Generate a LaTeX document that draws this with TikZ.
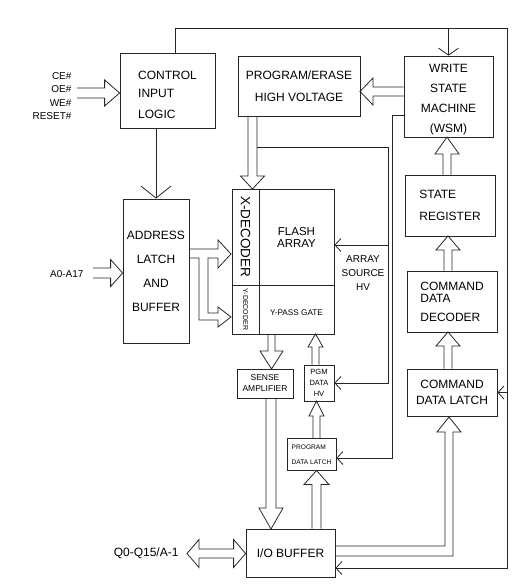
\documentclass[tikz,border=0pt]{standalone}
\usepackage{fontspec}
\setmainfont{Liberation Sans}
\usetikzlibrary{arrows.meta,calc}

\tikzset{
  blk/.style={draw=black!85, line width=0.8pt, inner sep=0pt, align=center},
  wire/.style={draw=black!85, line width=0.8pt},
  barb/.style={-{Straight Barb[length=6pt,width=13pt]}},
}

% hollow block arrow: half shaft, half head, head length, start, tip
\newcommand{\barrow}[5]{%
  \coordinate (bas) at (#4);
  \coordinate (bat) at (#5);
  \coordinate (bah) at ($(bat)!#3pt!(bas)$);
  \draw[wire] ($(bas)!#1pt!90:(bat)$) -- ($(bah)!#1pt!90:(bat)$) -- ($(bah)!#2pt!90:(bat)$) -- (bat)
    -- ($(bah)!#2pt!-90:(bat)$) -- ($(bah)!#1pt!-90:(bat)$) -- ($(bas)!#1pt!-90:(bat)$);
}
% same, with a head at both ends
\newcommand{\bbarrow}[5]{%
  \coordinate (bas) at (#4);
  \coordinate (bat) at (#5);
  \coordinate (bah) at ($(bat)!#3pt!(bas)$);
  \coordinate (bao) at ($(bas)!#3pt!(bat)$);
  \draw[wire] ($(bao)!#1pt!90:(bat)$) -- ($(bah)!#1pt!90:(bat)$) -- ($(bah)!#2pt!90:(bat)$) -- (bat)
    -- ($(bah)!#2pt!-90:(bat)$) -- ($(bah)!#1pt!-90:(bat)$) -- ($(bao)!#1pt!-90:(bat)$)
    -- ($(bao)!#2pt!-90:(bat)$) -- (bas) -- ($(bao)!#2pt!90:(bat)$) -- cycle;
}

\begin{document}
\begin{tikzpicture}[x=1pt, y=-1pt]
  \useasboundingbox (0,0) rectangle (526,588);

  % Blocks
  \node[blk, minimum width=95, minimum height=75] (ctrl) at (167.5,90.5) {};
  \node[align=left, font=\fontsize{12}{18}\selectfont] (ctrlt) at ([yshift=-4pt]ctrl.center) {CONTROL\\INPUT\\[3pt]LOGIC};
  \node[blk, minimum width=122, minimum height=60, font=\fontsize{12}{22}\selectfont] (pehv) at (299,86) {PROGRAM/ERASE\\HIGH VOLTAGE};
  \node[blk, minimum width=89, minimum height=81] (wsm) at (448.5,96.5) {};
  \node[align=center, font=\fontsize{12}{20}\selectfont] (wsmt) at ([yshift=-3.5pt]wsm.center) {WRITE\\STATE\\MACHINE\\(WSM)};
  \node[blk, minimum width=90, minimum height=61, align=left, font=\fontsize{12}{22}\selectfont] (strg) at (450,205.5) {STATE\\REGISTER};
  \node[blk, minimum width=90, minimum height=61, align=left, font=\fontsize{12}{12}\selectfont] (cdd) at (452,301.5) {COMMAND\\DATA\\[7pt]DECODER};
  \node[blk, minimum width=90, minimum height=47, font=\fontsize{12}{16}\selectfont] (cdl) at (452,392.5) {COMMAND\\DATA LATCH};
  \node[blk, minimum width=66, minimum height=144, font=\fontsize{12}{24}\selectfont] (addr) at (156,271) {ADDRESS\\LATCH\\AND\\BUFFER};
  \node[blk, minimum width=27, minimum height=96] (xdec) at (245.5,237) {};
  \node[blk, minimum width=27, minimum height=49] (ydec) at (245.5,309.5) {};
  \node[blk, minimum width=75, minimum height=96, font=\fontsize{11.5}{12}\selectfont] (flash) at (296.5,237) {FLASH\\ARRAY};
  \node[blk, minimum width=75, minimum height=49] (ypass) at (296.5,309.5) {};
  \node[font=\fontsize{8.2}{10}\selectfont] (ypt) at ([yshift=-3pt]ypass.center) {Y-PASS GATE};
  \node[blk, minimum width=56, minimum height=29, font=\fontsize{8.5}{11}\selectfont] (sense) at (265,383.5) {SENSE\\AMPLIFIER};
  \node[blk, minimum width=30, minimum height=36, font=\fontsize{7.5}{11}\selectfont] (pgm) at (319,383) {PGM\\DATA\\HV};
  \node[blk, minimum width=49, minimum height=32, align=left, font=\fontsize{6.6}{15}\selectfont] (pdl) at (311.5,454.5) {PROGRAM\\DATA LATCH};
  \node[blk, minimum width=89, minimum height=48, font=\fontsize{12}{14}\selectfont] (iob) at (290.5,553) {I/O BUFFER};

  \node[rotate=-90, font=\fontsize{13.5}{14}\selectfont] (xdt) at (xdec.center) {X-DECODER};
  \node[rotate=-90, font=\fontsize{7}{8}\selectfont] (ydt) at (ydec.center) {Y-DECODER};

  % Labels
  \node[font=\fontsize{10}{13.3}\selectfont, align=right, anchor=east] (ctl) at (75,96) {CE\#\\OE\#\\WE\#\\RESET\#};
  \node[font=\fontsize{10}{12}\selectfont, anchor=east] (alab) at (87,274) {A0-A17};
  \node[font=\fontsize{12}{14}\selectfont, anchor=east] (qlab) at (182,553) {Q0-Q15/A-1};
  \node[font=\fontsize{10}{14}\selectfont, align=center] (ash) at (363,273) {ARRAY\\SOURCE\\HV};

  % Hollow arrows
  \coordinate (cin) at (77,93);
  \barrow{5}{13}{15}{cin}{ctrl.west |- cin}
  \coordinate (ain) at (93,273);
  \barrow{5}{13.5}{12}{ain}{addr.west |- ain}
  \coordinate (wpe) at (360,91.5);
  \barrow{4.5}{13.5}{13}{wsm.west |- wpe}{wpe}
  \coordinate (xd) at (252.5,189);
  \barrow{4.5}{12}{13}{pehv.south -| xd}{xd}
  \coordinate (fs) at (271.5,369);
  \barrow{3.5}{11.5}{18}{ypass.south -| fs}{fs}
  \coordinate (py) at (315.5,334);
  \barrow{3.5}{7.5}{13}{pgm.north -| py}{py}
  \coordinate (pp) at (316.5,401);
  \barrow{3.5}{7.5}{15}{pdl.north -| pp}{pp}
  \coordinate (ip) at (316.5,470.5);
  \barrow{4.5}{12.5}{14}{iob.north -| ip}{ip}
  \coordinate (si) at (271,529);
  \barrow{5}{12}{21}{sense.south -| si}{si}
  \coordinate (cc) at (448,332);
  \barrow{4}{12}{14}{cdl.north -| cc}{cc}
  \coordinate (cs) at (448,236);
  \barrow{4}{12}{14}{cdd.north -| cs}{cs}
  \coordinate (sw) at (447,137);
  \barrow{4}{12}{17}{strg.north -| sw}{sw}
  \coordinate (qin) at (187,553.5);
  \bbarrow{4.5}{14}{12}{qin}{iob.west |- qin}

  % Address bus split into X and Y decoders
  \draw[wire] (189,249) -- (218,249) -- (218,240) -- (231,254) -- (218,268) -- (218,258) -- (208,258)
    -- (208,313) -- (218,313) -- (218,307) -- (231,317) -- (218,327) -- (218,320) -- (199,320)
    -- (199,258) -- (189,258);
  % I/O buffer to command data latch
  \draw[wire] (335,546) -- (445,546) -- (445,432) -- (437,432) -- (449,417) -- (461,432) -- (453,432)
    -- (453,556) -- (335,556);

  % Control wires
  \coordinate (tr) at (507,28);
  \draw[wire, barb] ([xshift=7.5pt]ctrl.north) |- (tr) |- ([yshift=-15pt]iob.east);
  \draw[wire, -{Straight Barb[length=7pt,width=20pt]}] (wsm.north |- tr) -- (wsm.north);
  \draw[wire, barb] (tr |- cdl.east) -- (cdl.east);
  \draw[wire, -{Straight Barb[length=12pt,width=30pt]}] (addr.north |- ctrl.south) -- (addr.north);
  \coordinate (hv) at (257,147);
  \coordinate (hvr) at (388,147);
  \draw[wire, barb] (hv) -- (hvr) |- (pgm.east);
  \coordinate (asv) at ([yshift=-8pt]flash.east);
  \draw[wire, barb] (hvr |- asv) -- (asv);
  \draw[wire, barb] ([yshift=-18.5pt]wsm.west) -- ++(-11,0) |- ([yshift=-3.5pt]pdl.east);
\end{tikzpicture}
\end{document}
